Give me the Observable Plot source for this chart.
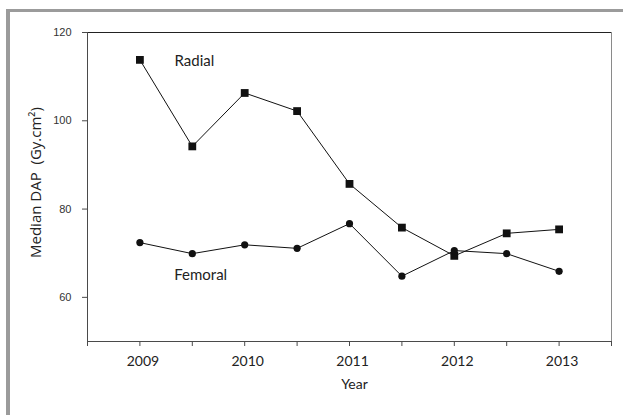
<!DOCTYPE html>
<html><head><meta charset="utf-8">
<script src="https://cdn.jsdelivr.net/npm/d3@7"></script>
<script src="https://cdn.jsdelivr.net/npm/@observablehq/plot@0.6"></script>
<style>
html,body{margin:0;padding:0;background:#fff;overflow:hidden;width:623px;height:415px;}
#wrap{position:relative;width:623px;height:415px;overflow:hidden;}
#frame{position:absolute;left:6px;top:9px;width:800px;height:600px;border-left:4px solid #9b9b9b;border-top:3px solid #9b9b9b;}
#chart{position:absolute;left:0;top:0;}
</style></head><body><div id="wrap"><div id="frame"></div><div id="chart"></div></div>
<script>
const periods = [2009, 2009.5, 2010, 2010.5, 2011, 2011.5, 2012, 2012.5, 2013];
const radial = [113.8, 94.2, 106.3, 102.2, 85.7, 75.8, 69.4, 74.5, 75.4];
const femoral = [72.4, 69.9, 71.9, 71.1, 76.7, 64.8, 70.6, 69.9, 65.9];
const yearLabels = [2009, 2010, 2011, 2012, 2013];
const halfTicks = [2008.5, 2009, 2009.5, 2010, 2010.5, 2011, 2011.5, 2012, 2012.5, 2013, 2013.5];
const yTicks = [60, 80, 100, 120];
const seriesNames = ["Radial", "Femoral"];
const seriesLabelX = [2009.52, 2009.58];
const seriesLabelY = [113.4, 65.0];

const radialData = periods.map((p, i) => ({period: p, value: radial[i]}));
const femoralData = periods.map((p, i) => ({period: p, value: femoral[i]}));
const labelData = seriesNames.map((n, i) => ({name: n, x: seriesLabelX[i], y: seriesLabelY[i]}));

const chart = Plot.plot({
  width: 623, height: 415,
  marginLeft: 87, marginRight: 12, marginTop: 32, marginBottom: 74,
  x: {domain: [2008.5, 2013.5]},
  y: {domain: [50, 120]},
  style: {background: "transparent", fontFamily: "Lato", color: "#222"},
  marks: [
    Plot.ruleY([120], {stroke: "#222"}),
    Plot.ruleX([2013.5], {stroke: "#8a8a8a"}),
    Plot.ruleX([2008.5], {stroke: "#4a4a4a"}),
    Plot.ruleY([50], {stroke: "#4a4a4a"}),
    Plot.axisY({ticks: yTicks, tickSize: 5, tickPadding: 11, stroke: "#4a4a4a", fill: "#333", fontSize: 11, fontFamily: "Liberation Sans", tickFormat: d => String(d), label: null}),
    Plot.axisX({ticks: halfTicks, tickSize: 5, tickFormat: () => "", stroke: "#4a4a4a", label: null}),
    Plot.axisX({ticks: yearLabels, tickSize: 0, tickPadding: 15, tickFormat: d => String(d), fill: "#222", fontSize: 14, fontFamily: "Lato", dx: 3, label: null}),
    Plot.text(["Year"], {frameAnchor: "bottom", dx: 5, dy: 47, fontSize: 14, fontFamily: "Lato", fill: "#222"}),
    Plot.text(["Median DAP  (Gy.cm\u00b2)"], {frameAnchor: "left", textAnchor: "middle", rotate: -90, dx: -51, dy: -4.5, fontSize: 15, fontFamily: "Open Sans", fill: "#222"}),
    Plot.line(radialData, {x: "period", y: "value", stroke: "#111", strokeWidth: 1}),
    Plot.line(femoralData, {x: "period", y: "value", stroke: "#111", strokeWidth: 1}),
    Plot.dot(radialData, {x: "period", y: "value", symbol: "square", r: 4.4, fill: "#111", stroke: "none"}),
    Plot.dot(femoralData, {x: "period", y: "value", symbol: "circle", r: 3.6, fill: "#111", stroke: "none"}),
    Plot.text(labelData, {x: "x", y: "y", text: "name", fontSize: 15, fontFamily: "Lato", fill: "#222"})
  ]
});
document.getElementById("chart").appendChild(chart);
</script>
</body></html>
